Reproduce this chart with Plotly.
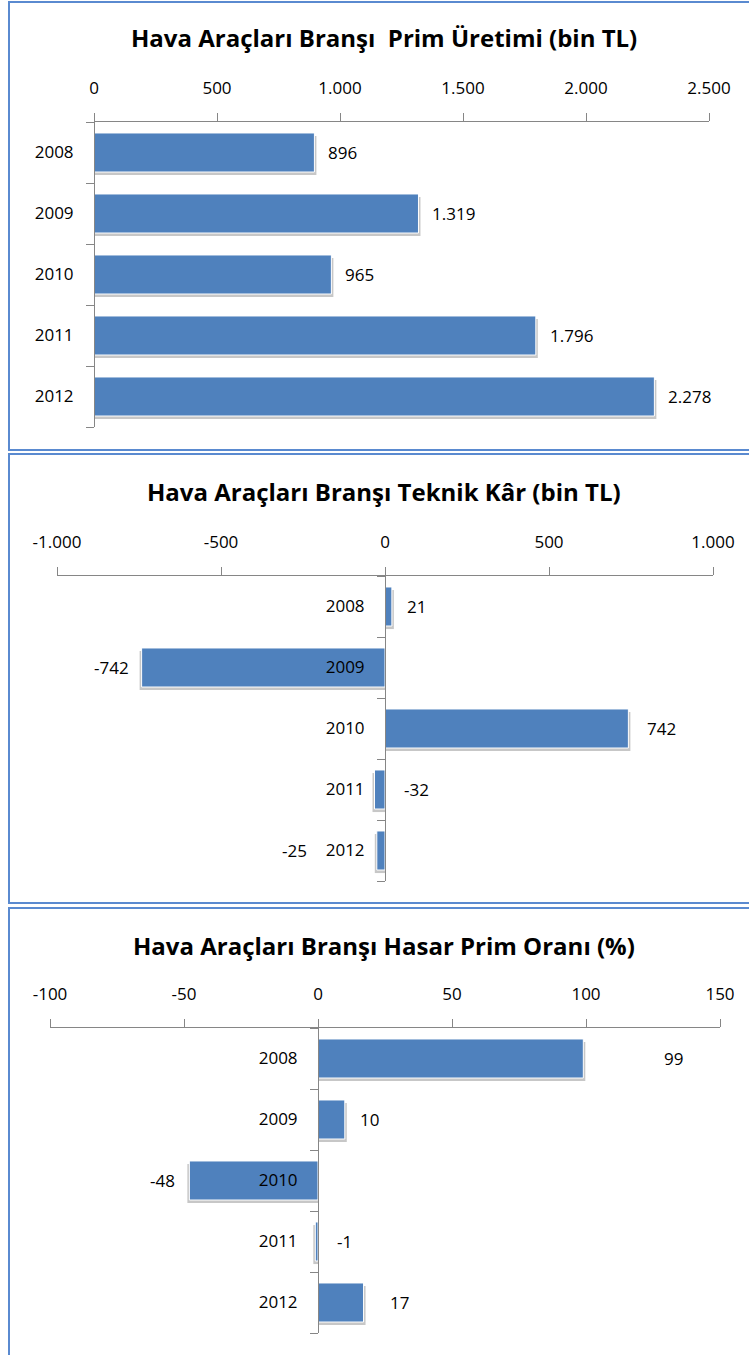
import plotly.graph_objects as go

# ---------------- data ----------------
years = [2008, 2009, 2010, 2011, 2012]
prim_uretimi = [896, 1319, 965, 1796, 2278]          # bin TL
teknik_kar = [21, -742, 742, -32, -25]               # bin TL
hasar_prim_orani = [99, 10, -48, -1, 17]             # %

titles = [
    "Hava Araçları Branşı  Prim Üretimi (bin TL)",
    "Hava Araçları Branşı Teknik Kâr (bin TL)",
    "Hava Araçları Branşı Hasar Prim Oranı (%)",
]
x_ticks_1 = [0, 500, 1000, 1500, 2000, 2500]
x_ticks_2 = [-1000, -500, 0, 500, 1000]
x_ticks_3 = [-100, -50, 0, 50, 100, 150]


def fmt(v):
    return f"{v:,}".replace(",", ".")


# ---------------- styling / layout ----------------
W, H = 749, 1355
BAR = "#4F81BD"
AXIS = "#868686"
BORDER = "#5A8AD0"
SHADOW = "rgba(0,0,0,0.22)"
FONT = "Open Sans"
NUMSIZE = 17
BAR_W = 0.64

# label placement (side of the bar end, gap in px)
lab1 = [("r", 12)] * 5
lab2 = [("r", 13), ("l", 11), ("r", 17), ("r", 27), ("l", 68)]
lab3 = [("r", 79), ("r", 13), ("l", 12), ("r", 20), ("r", 24)]


def px_x(p):
    return p / W


def px_y(p):
    return 1 - p / H


panels = [
    dict(vals=prim_uretimi, ticks=x_ticks_1, rng=[0, 2500], xd=[94, 709], yd=[122, 427],
         ypos=94, labs=lab1, title_y=38, box=[2, 450]),
    dict(vals=teknik_kar, ticks=x_ticks_2, rng=[-1000, 1000], xd=[57, 713], yd=[576, 881],
         ypos=385, labs=lab2, title_y=492, box=[454, 903]),
    dict(vals=hasar_prim_orani, ticks=x_ticks_3, rng=[-100, 150], xd=[50, 720], yd=[1028, 1333],
         ypos=318, labs=lab3, title_y=945, box=[908, 1362]),
]

boundaries = [years[0] - 0.5] + [y + 0.5 for y in years]

fig = go.Figure()
annotations = []
shapes = []
layout_axes = {}

for i, p in enumerate(panels, start=1):
    xa = "x" if i == 1 else f"x{i}"
    ya = "y" if i == 1 else f"y{i}"
    # units per pixel on this x axis (for a small drop shadow)
    upp = (p["rng"][1] - p["rng"][0]) / (p["xd"][1] - p["xd"][0])
    fig.add_trace(go.Bar(
        x=[v + (2 * upp if v >= 0 else -2 * upp) for v in p["vals"]], y=years,
        orientation="h", xaxis=xa, yaxis=ya,
        width=BAR_W, offset=-BAR_W / 2 + 0.05,
        marker=dict(color=SHADOW, line=dict(width=0)),
        hoverinfo="skip",
    ))
    fig.add_trace(go.Bar(
        x=p["vals"], y=years, orientation="h", xaxis=xa, yaxis=ya,
        width=BAR_W, offset=-BAR_W / 2,
        marker=dict(color=BAR, line=dict(color="#FFFFFF", width=1)),
        hoverinfo="skip",
    ))
    xkey = "xaxis" if i == 1 else f"xaxis{i}"
    ykey = "yaxis" if i == 1 else f"yaxis{i}"
    layout_axes[xkey] = dict(
        domain=[px_x(p["xd"][0]), px_x(p["xd"][1])],
        range=p["rng"], side="top", anchor=ya,
        tickvals=p["ticks"], ticktext=[fmt(t) for t in p["ticks"]],
        ticks="outside", ticklen=8, tickcolor=AXIS, tickwidth=1,
        showline=True, linecolor=AXIS, linewidth=1,
        showgrid=False, zeroline=False, ticklabelstandoff=12,
        tickfont=dict(family=FONT, size=NUMSIZE, color="#000000"),
        automargin=False, fixedrange=True,
    )
    layout_axes[ykey] = dict(
        domain=[px_y(p["yd"][1]), px_y(p["yd"][0])],
        range=[years[-1] + 0.5, years[0] - 0.5], anchor="free", position=px_x(p["ypos"]),
        tickvals=years, ticktext=[str(y) for y in years], ticks="",
        minor=dict(tickvals=boundaries, ticks="outside", ticklen=8,
                   tickcolor=AXIS, tickwidth=1, showgrid=False),
        showline=True, linecolor=AXIS, linewidth=1,
        showgrid=False, zeroline=False, ticklabelstandoff=17,
        tickfont=dict(family=FONT, size=NUMSIZE, color="#000000"),
        automargin=False, fixedrange=True,
    )
    # data labels
    for yr, v, (side, gap) in zip(years, p["vals"], p["labs"]):
        annotations.append(dict(
            x=v, y=yr, xref=xa, yref=ya, text=fmt(v), showarrow=False,
            xanchor="left" if side == "r" else "right", yanchor="middle",
            xshift=gap if side == "r" else -gap,
            font=dict(family=FONT, size=NUMSIZE, color="#000000"),
        ))
    # title
    annotations.append(dict(
        x=px_x(384), y=px_y(p["title_y"]), xref="paper", yref="paper",
        text=f"<b>{titles[i-1]}</b>", showarrow=False,
        xanchor="center", yanchor="middle",
        font=dict(family=FONT, size=24, color="#000000"),
    ))
    # panel frame
    shapes.append(dict(
        type="rect", xref="paper", yref="paper",
        x0=px_x(9), x1=1.02, y0=px_y(p["box"][1]), y1=px_y(p["box"][0]),
        line=dict(color=BORDER, width=2), fillcolor="rgba(0,0,0,0)", layer="below",
    ))

fig.update_layout(
    width=W, height=H, margin=dict(l=0, r=0, t=0, b=0, autoexpand=False),
    paper_bgcolor="#FFFFFF", plot_bgcolor="rgba(0,0,0,0)",
    showlegend=False, barmode="overlay",
    annotations=annotations, shapes=shapes,
    font=dict(family=FONT, color="#000000"),
    **layout_axes,
)

fig.write_html(
    "out.html",
    config={"displayModeBar": False},
    post_script="document.body.style.margin='0';document.body.style.overflow='hidden';",
)
